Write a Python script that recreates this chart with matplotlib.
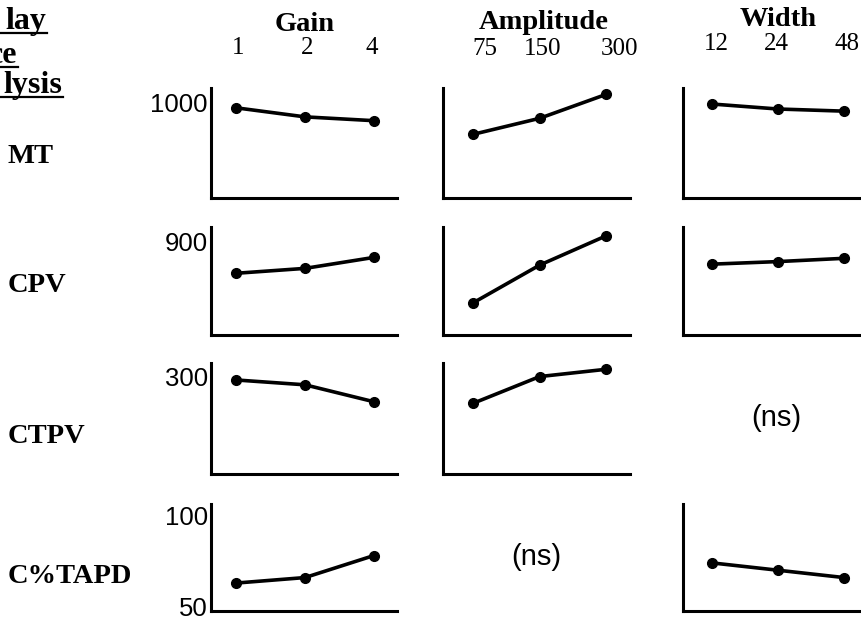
import matplotlib
matplotlib.use("Agg")
import matplotlib.pyplot as plt
from matplotlib.lines import Line2D

# ---------------- data ----------------
measures = ["MT", "CPV", "CTPV", "C%TAPD"]
factors = ["Gain", "Amplitude", "Width"]
gain_levels = ["1", "2", "4"]
amplitude_levels = ["75", "150", "300"]
width_levels = ["12", "24", "48"]

mt_gain = [978, 940, 924]
mt_amplitude = [867, 934, 1034]
mt_width = [994, 973, 964]

cpv_gain = [764, 785, 832]
cpv_amplitude = [638, 799, 924]
cpv_width = [803, 814, 828]

ctpv_gain = [293, 283, 248]
ctpv_amplitude = [245, 300, 315]
ctpv_width = None          # (ns)

ctapd_gain = [63, 66, 78]
ctapd_amplitude = None     # (ns)
ctapd_width = [74, 70, 66]

y_ticks = [[1000], [900], [300], [50, 100]]
y_limits = [(600, 1061), (500, 962), (100, 328), (47.8, 106.3)]

header_parts = ["lay", "ce", "lysis"]
ns_label = "(ns)"

series = [
    [mt_gain, mt_amplitude, mt_width],
    [cpv_gain, cpv_amplitude, cpv_width],
    [ctpv_gain, ctpv_amplitude, ctpv_width],
    [ctapd_gain, ctapd_amplitude, ctapd_width],
]
levels = [gain_levels, amplitude_levels, width_levels]

# ---------------- layout (pixels) ----------------
W, H = 862, 618
fig = plt.figure(figsize=(W / 100, H / 100), dpi=100)
fig.patch.set_facecolor("white")

SERIF = ["Liberation Serif", "DejaVu Serif"]
SANS = ["Liberation Sans", "DejaVu Sans"]


def fx(x):
    return x / W


def fy(y):
    return 1 - y / H


row_px = [(88, 198), (227, 335), (363, 473.5), (503.5, 611)]
col_px = [
    (210.7, 397.0, (-0.367, 2.333)),
    (443.3, 630.0, (-0.452, 2.362)),
    (683.3, 870.0, (-0.428, 2.393)),
]

for r, (top, bot) in enumerate(row_px):
    for c, (left, right, xl) in enumerate(col_px):
        ax = fig.add_axes([fx(left), fy(bot), (right - left) / W, (bot - top) / H])
        ax.set_xlim(*xl)
        ax.set_ylim(*y_limits[r])
        vals = series[r][c]
        if vals is None:
            ax.axis("off")
            ax.text(0.5, 0.5, ns_label, transform=ax.transAxes,
                    ha="center", va="center", fontsize=21, family=SANS)
            continue
        ax.plot(range(len(vals)), vals, color="black", lw=2.6,
                marker="o", ms=7, solid_capstyle="round")
        for s in ["top", "right"]:
            ax.spines[s].set_visible(False)
        for s in ["left", "bottom"]:
            ax.spines[s].set_linewidth(2.2)
        ax.set_xticks([])
        if c == 0:
            ax.set_yticks(y_ticks[r])
            ax.set_yticklabels([str(v) for v in y_ticks[r]], fontsize=18.5,
                               family=SANS)
            ax.tick_params(axis="y", length=0, pad=2)
        else:
            ax.set_yticks([])

# column headers
head_x = [305, 544, 778]
head_base = [31, 29.3, 26]
num_x = [[238, 306.7, 371.7], [485, 543, 620], [716.7, 776.7, 846.7]]
num_base = [54.3, 55, 50]
for c in range(3):
    fig.text(fx(head_x[c]), fy(head_base[c]), factors[c], ha="center",
             va="baseline", fontsize=20.5, fontweight="bold", family=SERIF)
    for i, lab in enumerate(levels[c]):
        fig.text(fx(num_x[c][i]), fy(num_base[c]), lab, ha="center",
                 va="baseline", fontsize=18, family=SERIF)

# row labels
row_base = [163, 291.7, 443.3, 583.3]
for r, m in enumerate(measures):
    fig.text(fx(8), fy(row_base[r]), m, ha="left", va="baseline",
             fontsize=20.5, fontweight="bold", family=SERIF)

# top-left (cropped) header with underlines
hdr_right = [46, 17, 62]
hdr_base = [29.3, 63.3, 93.3]
hdr_ul = [33.3, 66.7, 96.7]
for i, txt in enumerate(header_parts):
    fig.text(fx(hdr_right[i]), fy(hdr_base[i]), txt, ha="right", va="baseline",
             fontsize=23, fontweight="bold", family=SERIF)
    fig.add_artist(Line2D([0, fx(hdr_right[i] + 1)], [fy(hdr_ul[i])] * 2,
                          transform=fig.transFigure, color="black", lw=1.6))

fig.savefig("out.png", dpi=100)
